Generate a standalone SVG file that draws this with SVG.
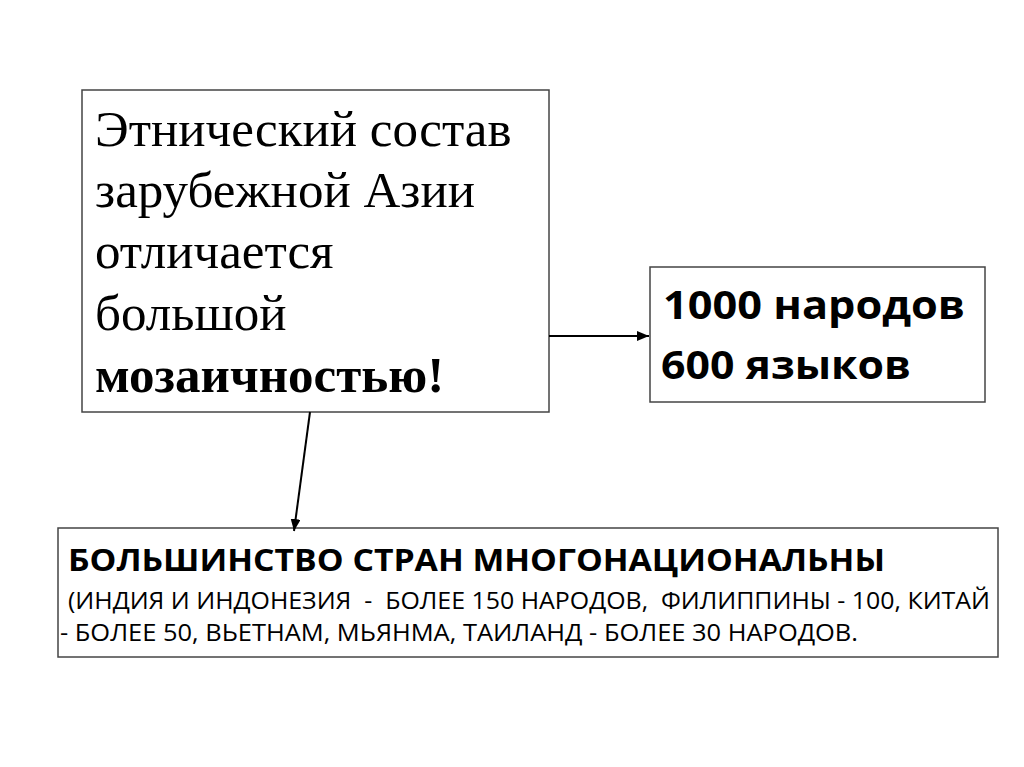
<svg xmlns="http://www.w3.org/2000/svg" width="1024" height="767" viewBox="0 0 1024 767">
<style>
.box{fill:#fff;stroke:#444;stroke-width:1.5}
.serif{font-family:"Liberation Serif","Times New Roman",serif;font-size:51px;fill:#000}
.sans{font-family:"Open Sans","Liberation Sans",sans-serif;fill:#000}
.conn{stroke:#000;stroke-width:2;fill:none}
</style>
<defs>
<marker id="arr" markerWidth="12" markerHeight="10" refX="12" refY="5" orient="auto" markerUnits="userSpaceOnUse">
<path d="M0,0 L12,5 L0,10 z" fill="#000"/>
</marker>
</defs>
<rect width="1024" height="767" fill="#fff"/>
<g id="node-main">
<rect class="box" x="82" y="90" width="467" height="322"/>
<text class="serif" x="95" y="146">Этнический состав</text>
<text class="serif" x="95" y="207">зарубежной Азии</text>
<text class="serif" x="95" y="268">отличается</text>
<text class="serif" x="95" y="330">большой</text>
<text class="serif" x="95" y="392" font-weight="bold">мозаичностью!</text>
</g>
<g id="node-counts">
<rect class="box" x="650" y="267" width="335" height="135"/>
<text class="sans" x="663" y="319" font-size="40" font-weight="bold" textLength="302" lengthAdjust="spacingAndGlyphs">1000 народов</text>
<text class="sans" x="661" y="379" font-size="40" font-weight="bold" textLength="250" lengthAdjust="spacingAndGlyphs">600 языков</text>
</g>
<g id="node-countries">
<rect class="box" x="58" y="528" width="940" height="129"/>
<text class="sans" x="68" y="571" font-size="31" font-weight="bold" textLength="817" lengthAdjust="spacingAndGlyphs">БОЛЬШИНСТВО СТРАН МНОГОНАЦИОНАЛЬНЫ</text>
<text class="sans" x="68" y="609" font-size="24" textLength="922" lengthAdjust="spacingAndGlyphs" xml:space="preserve">(ИНДИЯ И ИНДОНЕЗИЯ  -  БОЛЕЕ 150 НАРОДОВ,  ФИЛИППИНЫ - 100, КИТАЙ</text>
<text class="sans" x="60" y="641" font-size="24" textLength="798" lengthAdjust="spacingAndGlyphs">- БОЛЕЕ 50, ВЬЕТНАМ, МЬЯНМА, ТАИЛАНД - БОЛЕЕ 30 НАРОДОВ.</text>
</g>
<g id="connectors">
<line class="conn" x1="549" y1="336" x2="649" y2="336" marker-end="url(#arr)"/>
<line class="conn" x1="310" y1="412" x2="294" y2="531" marker-end="url(#arr)"/>
</g>
</svg>
